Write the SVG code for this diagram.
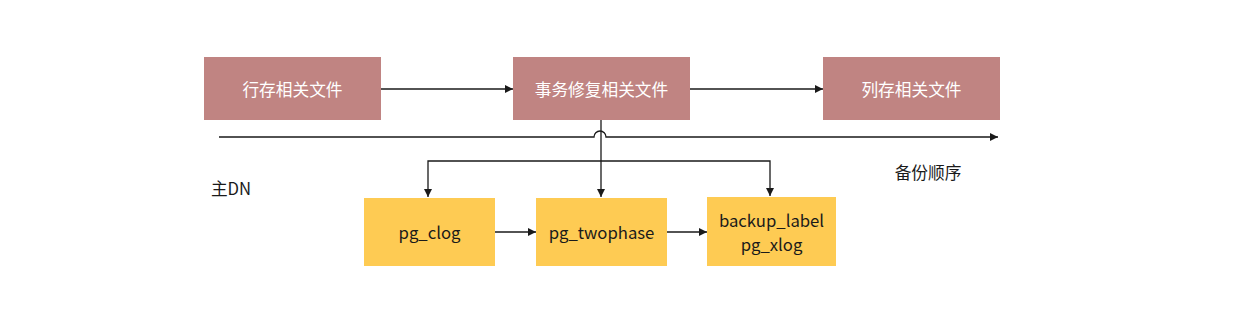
<svg xmlns="http://www.w3.org/2000/svg" width="1240" height="314" viewBox="0 0 1240 314">
<style>
.r{fill:#c08482}
.y{fill:#fecb53}
.t{font-family:"Noto Sans CJK SC","Noto Sans",sans-serif;font-size:16.7px;text-anchor:middle;dominant-baseline:central}
.w{fill:#ffffff}
.k{fill:#1a1a1a}
.c{fill:none;stroke:#1a1a1a;stroke-width:1.3}
</style>
<defs>
<marker id="a" viewBox="0 0 10 10" refX="10" refY="5" markerWidth="8" markerHeight="8" markerUnits="userSpaceOnUse" orient="auto">
<path d="M0,0 L10,5 L0,10 z" fill="#1a1a1a"/>
</marker>
</defs>
<rect width="1240" height="314" fill="#ffffff"/>
<g id="connectors">
<path class="c" d="M381,89 H513" marker-end="url(#a)"/>
<path class="c" d="M690,89 H823" marker-end="url(#a)"/>
<path class="c" d="M219,137 H594 A6,6 0 0 1 606,137 H998" marker-end="url(#a)"/>
<path class="c" d="M601,120 V197" marker-end="url(#a)"/>
<path class="c" d="M601,161 H428 V197" marker-end="url(#a)"/>
<path class="c" d="M601,161 H770 V196" marker-end="url(#a)"/>
<path class="c" d="M495,232 H536" marker-end="url(#a)"/>
<path class="c" d="M667,232 H707" marker-end="url(#a)"/>
</g>
<g id="n1"><rect class="r" x="204" y="57" width="177" height="63"/><text class="t w" x="292.5" y="89">行存相关文件</text></g>
<g id="n2"><rect class="r" x="513" y="57" width="177" height="63"/><text class="t w" x="601.5" y="89">事务修复相关文件</text></g>
<g id="n3"><rect class="r" x="823" y="57" width="177" height="63"/><text class="t w" x="911.5" y="89">列存相关文件</text></g>
<g id="n4"><rect class="y" x="364" y="198" width="131" height="68"/><text class="t k" x="429.5" y="232">pg_clog</text></g>
<g id="n5"><rect class="y" x="536" y="198" width="131" height="68"/><text class="t k" x="601.5" y="232">pg_twophase</text></g>
<g id="n6"><rect class="y" x="707" y="197" width="129" height="69"/><text class="t k" x="771.5" y="220">backup_label</text><text class="t k" x="771.5" y="244">pg_xlog</text></g>
<g id="l1"><text class="t k" x="231" y="188">主DN</text></g>
<g id="l2"><text class="t k" x="928" y="172">备份顺序</text></g>
</svg>
